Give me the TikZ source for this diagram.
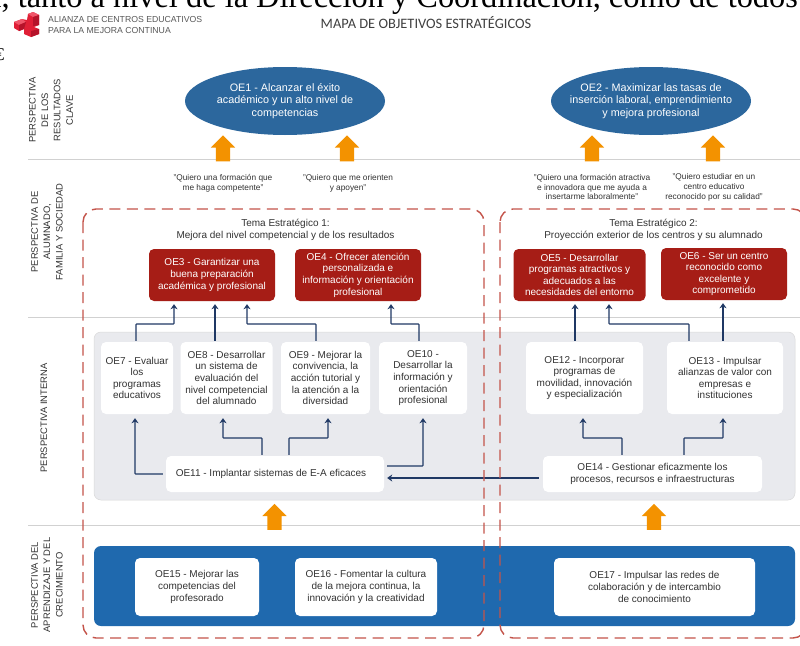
\documentclass[tikz,border=0pt]{standalone}
\usepackage{fontspec}
\setmainfont{Liberation Sans}
\newfontfamily\serifface{Liberation Serif}
\newfontfamily\titleface{Carlito}
\usetikzlibrary{arrows.meta,shapes.geometric,shapes.arrows}
\definecolor{navy}{HTML}{1F3864}
\definecolor{oblue}{HTML}{2C679D}
\definecolor{pblue}{HTML}{1F69AE}
\definecolor{ored}{HTML}{A61D16}
\definecolor{oorange}{HTML}{F39200}
\definecolor{dashred}{HTML}{C4544A}
\definecolor{pgray}{HTML}{E9EAEE}
\definecolor{txt}{HTML}{333333}
\definecolor{logoa}{HTML}{E01F36}
\definecolor{logob}{HTML}{B5132A}
\definecolor{logoc}{HTML}{F0566A}
\tikzset{
  x=1pt,y=-1pt,
  oval/.style={ellipse,fill=oblue,text=white,align=center,inner sep=-20pt,font=\fontsize{10.8}{12.3}\selectfont},
  redbox/.style={rectangle,rounded corners=5pt,fill=ored,text=white,align=center,inner sep=0pt,font=\fontsize{10}{11.6}\selectfont},
  whitebox/.style={rectangle,rounded corners=5pt,fill=white,text=txt,align=center,inner sep=0pt,font=\fontsize{10}{11.6}\selectfont},
  panel/.style={rounded corners=7pt},
  conn/.style={draw=navy,line width=1.1pt,rounded corners=0.6pt,-{Stealth[length=5pt,width=7pt]}},
  bigarrow/.style={single arrow,shape border rotate=90,fill=oorange,inner sep=7pt,minimum width=24pt,minimum height=26pt,single arrow head extend=5pt,single arrow head indent=0pt},
  quote/.style={align=center,text=txt,inner sep=0pt,font=\fontsize{8.3}{9.9}\selectfont},
  persp/.style={rotate=90,align=center,text=txt,inner sep=0pt,font=\fontsize{9.4}{12.4}\selectfont},
  theme/.style={align=center,text=txt,inner sep=0pt,font=\fontsize{10}{11.5}\selectfont},
  sep/.style={draw=black!18,line width=0.6pt},
  tema/.style={draw=dashred,line width=1.4pt,dash pattern=on 11pt off 6.5pt,rounded corners=13pt},
}
\begin{document}
\begin{tikzpicture}
\useasboundingbox[fill=white] (0,0) rectangle (800,645);
% scanned text line above
\node[anchor=base west,inner sep=0pt,font=\fontsize{32.4}{32.4}\selectfont\serifface] (scan) at (-13,7) {a, tanto a nivel de la Dirección y Coordinación, como de todos};
\node[anchor=base west,inner sep=0pt,font=\fontsize{18}{18}\selectfont\serifface] (frag) at (-5,60) {€};
% header
\node[fill=white,minimum width=205pt,minimum height=29pt,inner sep=0pt] (hdr) at (110.5,26.5) {};
\fill[logoa] (14,22) -- (22,19) -- (27,20) -- (28,14) -- (33,12) -- (39,15) -- (39,25) -- (34,27) -- (39,29) -- (39,34) -- (31,37) -- (24,34) -- (24,29) -- (19,31) -- (14,28) -- cycle;
\fill[logoc] (14,22) -- (22,19) -- (26,22) -- (19,25) -- cycle;
\fill[logoc] (28,14) -- (33,12) -- (39,15) -- (33,17) -- cycle;
\fill[logob] (33,17) -- (39,15) -- (39,25) -- (33,26) -- cycle;
\fill[logob] (31,31) -- (39,29) -- (39,34) -- (31,37) -- cycle;
\fill[logob] (19,25) -- (26,22) -- (24,29) -- (19,31) -- cycle;
\node[anchor=west,align=left,inner sep=0pt,text=black!65,font=\fontsize{8.7}{10.6}\selectfont] (alz) at (48,25) {ALIANZA DE CENTROS EDUCATIVOS\\PARA LA MEJORA CONTINUA};
\node[inner sep=0pt,text=black!75,font=\fontsize{14.4}{16}\selectfont\titleface] (title) at (426,23) {MAPA DE OBJETIVOS ESTRATÉGICOS};
% separators
\coordinate (la) at (28,159); \coordinate (ra) at (800,159);
\coordinate (lb) at (28,317); \coordinate (rb) at (800,317);
\coordinate (lc) at (28,525); \coordinate (rc) at (800,525);
\draw[sep] (la) -- (ra);
\draw[sep] (lb) -- (rb);
\draw[sep] (lc) -- (rc);
% perspective labels
\node[persp] (p1) at (51,110) {PERSPECTIVA\\DE LOS\\RESULTADOS\\CLAVE};
\node[persp] (p2) at (47,232) {PERSPECTIVA DE\\ALUMNADO,\\FAMILIA Y SOCIEDAD};
\node[persp] (p3) at (44,418) {PERSPECTIVA INTERNA};
\node[persp] (p4) at (47,585) {PERSPECTIVA DEL\\APRENDIZAJE Y DEL\\CRECIMIENTO};
% panels
\fill[panel,fill=pgray,draw=black!15,line width=0.5pt] (94,332) rectangle (795,500);
\fill[panel,fill=pblue] (94,546) rectangle (795,626);
% ovals
\node[oval,minimum width=200pt,minimum height=68pt] (oe1) at (285,101) {OE1 - Alcanzar el éxito\\académico y un alto nivel de\\competencias};
\node[oval,minimum width=200pt,minimum height=68pt] (oe2) at (651,101) {OE2 - Maximizar las tasas de\\inserción laboral, emprendimiento\\y mejora profesional};
% big arrows
\node[bigarrow] (a1) at (223,152) {};
\node[bigarrow] (a2) at (347,152) {};
\node[bigarrow] (a3) at (592,152) {};
\node[bigarrow] (a4) at (713,152) {};
\node[bigarrow] (a5) at (274.5,520.5) {};
\node[bigarrow] (a6) at (654,520.5) {};
% quotes
\node[quote] (q1) at (223,183) {"Quiero una formación que\\me haga competente"};
\node[quote] (q2) at (348,183) {"Quiero que me orienten\\y apoyen"};
\node[quote] (q3) at (592,187) {"Quiero una formación atractiva\\e innovadora que me ayuda a\\insertarme laboralmente"};
\node[quote] (q4) at (714,187) {"Quiero estudiar en un\\centro educativo\\reconocido por su calidad"};
% themes
\node[theme] (t1) at (285.5,230) {Tema Estratégico 1:\\Mejora del nivel competencial y de los resultados};
\node[theme] (t2) at (653.5,230) {Tema Estratégico 2:\\Proyección exterior de los centros y su alumnado};
% red boxes
\node[redbox,minimum width=126pt,minimum height=52pt] (oe3) at (212,275) {OE3 - Garantizar una\\buena preparación\\académica y profesional};
\node[redbox,minimum width=126pt,minimum height=52pt] (oe4) at (358,275) {OE4 - Ofrecer atención\\personalizada e\\información y orientación\\profesional};
\node[redbox,minimum width=132pt,minimum height=52pt] (oe5) at (579.5,275) {OE5 - Desarrollar\\programas atractivos y\\adecuados a las\\necesidades del entorno};
\node[redbox,minimum width=126pt,minimum height=52pt] (oe6) at (724,274) {OE6 - Ser un centro\\reconocido como\\excelente y\\comprometido};
% white boxes, internal
\node[whitebox,minimum width=72pt,minimum height=72pt] (oe7) at (137,378) {OE7 - Evaluar\\los\\programas\\educativos};
\node[whitebox,minimum width=92pt,minimum height=72pt] (oe8) at (226.5,378) {OE8 - Desarrollar\\un sistema de\\evaluación del\\nivel competencial\\del alumnado};
\node[whitebox,minimum width=89pt,minimum height=72pt] (oe9) at (325.5,378) {OE9 - Mejorar la\\convivencia, la\\acción tutorial y\\la atención a la\\diversidad};
\node[whitebox,minimum width=88pt,minimum height=72pt] (oe10) at (423,378) {OE10 -\\Desarrollar la\\información y\\orientación\\profesional};
\node[whitebox,minimum width=117pt,minimum height=72pt] (oe12) at (584.5,378) {OE12 - Incorporar\\programas de\\movilidad, innovación\\y especialización};
\node[whitebox,minimum width=116pt,minimum height=72pt] (oe13) at (725,378) {OE13 - Impulsar\\alianzas de valor con\\empresas e\\instituciones};
\node[whitebox,minimum width=218pt,minimum height=36pt] (oe11) at (275,474) {OE11 - Implantar sistemas de E-A eficaces\hspace*{8pt}};
\node[whitebox,minimum width=219pt,minimum height=36pt] (oe14) at (652.5,474) {OE14 - Gestionar eficazmente los\\procesos, recursos e infraestructuras};
% white boxes, learning
\node[whitebox,minimum width=124pt,minimum height=58pt] (oe15) at (197,587) {OE15 - Mejorar las\\competencias del\\profesorado};
\node[whitebox,minimum width=142pt,minimum height=58pt] (oe16) at (366,587) {OE16 - Fomentar la cultura\\de la mejora continua, la\\innovación y la creatividad};
\node[whitebox,minimum width=201pt,minimum height=58pt] (oe17) at (654.5,587) {OE17 - Impulsar las redes de\\colaboración y de intercambio\\de conocimiento};
% connectors to the red boxes
\draw[conn] ([yshift=1pt]136,0 |- oe7.north) -- (136,324) -- (174,324) -- ([yshift=-3pt]174,0 |- oe3.south);
\draw[conn] ([yshift=1pt]215,0 |- oe8.north) -- ([yshift=-3pt]215,0 |- oe3.south);
\draw[conn] ([yshift=1pt]316,0 |- oe9.north) -- (316,324) -- (247,324) -- ([yshift=-3pt]247,0 |- oe3.south);
\draw[conn] ([yshift=1pt]419,0 |- oe10.north) -- (419,324) -- (391,324) -- ([yshift=-3pt]391,0 |- oe4.south);
\draw[conn] ([yshift=1pt]575,0 |- oe12.north) -- ([yshift=-3pt]575,0 |- oe5.south);
\draw[conn] ([yshift=1pt]689,0 |- oe13.north) -- (689,324) -- (609,324) -- ([yshift=-3pt]609,0 |- oe5.south);
\draw[conn] ([yshift=1pt]723,0 |- oe13.north) -- ([yshift=-3pt]723,0 |- oe6.south);
% connectors inside the internal panel
\draw[conn] ([xshift=-3pt]oe11.west) -- (135,474) -- ([yshift=-4pt]135,0 |- oe7.south);
\draw[conn] ([yshift=1pt]262,0 |- oe11.north) -- (262,438) -- (223,438) -- ([yshift=-4pt]223,0 |- oe8.south);
\draw[conn] ([yshift=1pt]289,0 |- oe11.north) -- (289,438) -- (328,438) -- ([yshift=-4pt]328,0 |- oe9.south);
\draw[conn] ([xshift=3pt]oe11.east |- 0,466) -- (423,466) -- ([yshift=-4pt]423,0 |- oe10.south);
\draw[conn] ([xshift=-4pt]oe14.west |- 0,478) -- ([xshift=3pt]oe11.east |- 0,478);
\draw[conn] ([yshift=1pt]622,0 |- oe14.north) -- (622,438) -- (583,438) -- ([yshift=-4pt]583,0 |- oe12.south);
\draw[conn] ([yshift=1pt]684,0 |- oe14.north) -- (684,438) -- (723,438) -- ([yshift=-4pt]723,0 |- oe13.south);
% dashed theme frames
\draw[tema] (83,209) rectangle (484,638);
\draw[tema] (500,209) rectangle (806,638);
\end{tikzpicture}
\end{document}
